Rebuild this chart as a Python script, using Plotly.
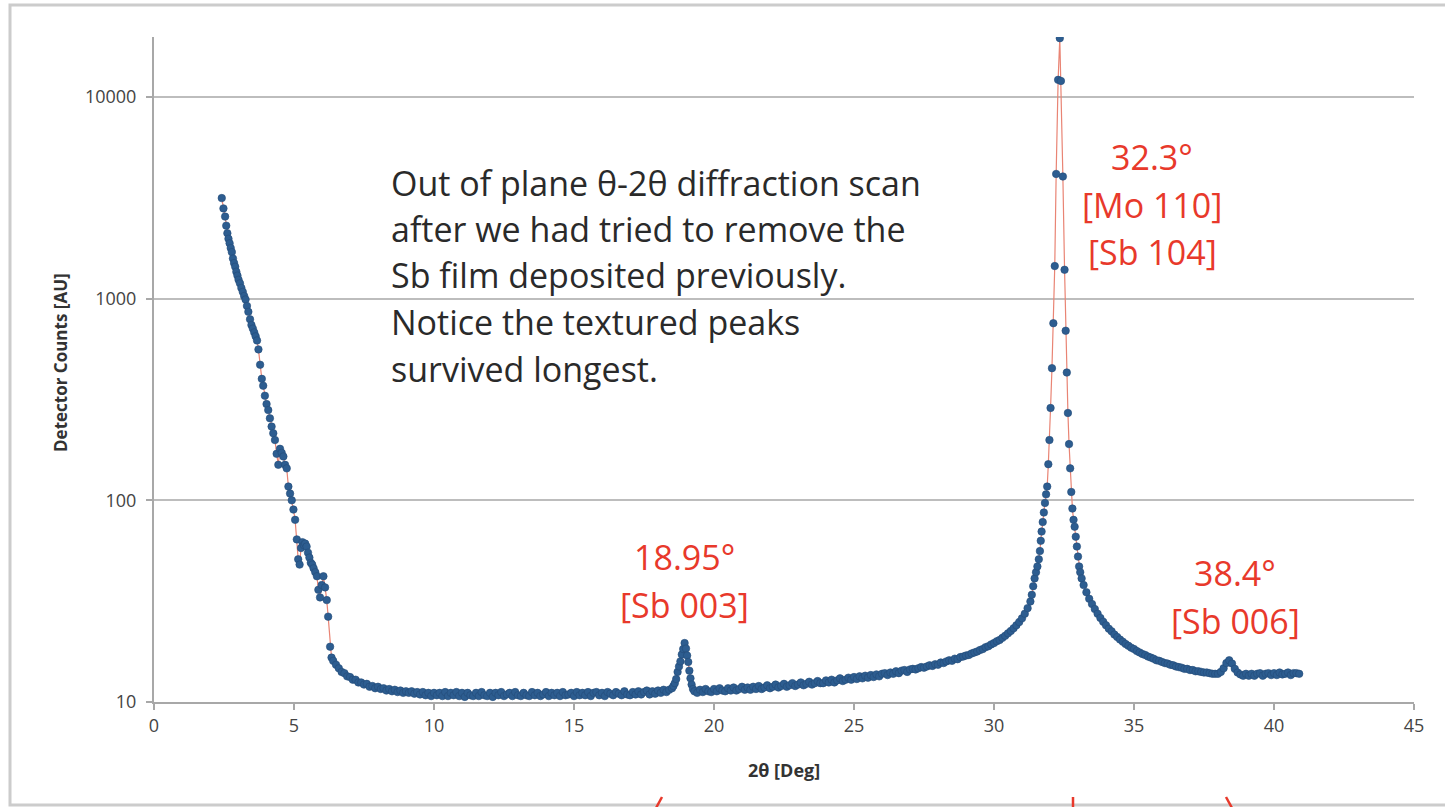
import plotly.graph_objects as go

# ---------------- data ----------------
# low-angle tail (2theta in deg, detector counts)
low_x = [2.42, 2.48, 2.54, 2.58, 2.62, 2.66, 2.70, 2.74, 2.78, 2.82,
         2.86, 2.90, 2.94, 2.98, 3.02, 3.07, 3.12, 3.17, 3.22, 3.27,
         3.32, 3.37, 3.43, 3.48, 3.53, 3.58, 3.63, 3.68, 3.73, 3.79,
         3.85, 3.90, 3.96, 4.02, 4.08, 4.14, 4.20, 4.26, 4.32, 4.38,
         4.44, 4.50, 4.56, 4.62, 4.68, 4.74, 4.80, 4.86, 4.92, 4.98,
         5.04, 5.10, 5.15, 5.20, 5.25, 5.30, 5.35, 5.40, 5.45, 5.50,
         5.55, 5.60, 5.65, 5.70, 5.76, 5.82, 5.87, 5.93, 5.99, 6.05,
         6.11, 6.17, 6.22, 6.29, 6.34]
low_y = [3150, 2800, 2550, 2300, 2110, 1980, 1880, 1780, 1700, 1580,
         1500, 1440, 1360, 1300, 1240, 1190, 1130, 1080, 1030, 990,
         920, 860, 790, 740, 710, 680, 650, 620, 560, 470,
         400, 370, 330, 300, 280, 255, 232, 215, 199, 170,
         150, 180, 172, 165, 150, 144, 117, 108, 100, 90,
         80, 64, 51, 48, 58, 62, 60, 61, 59, 55,
         52, 49, 48, 46, 44, 42, 36, 33, 38, 42,
         37, 32, 26.5, 18.8, 16.6]

# flat background 6.4 - 18.4 deg
bg1_x = [6.4, 6.5, 6.6, 6.7, 6.8, 6.9, 7.0, 7.1, 7.2, 7.3,
         7.4, 7.5, 7.6, 7.7, 7.8, 7.9, 8.0, 8.1, 8.2, 8.3,
         8.4, 8.5, 8.6, 8.7, 8.8, 8.9, 9.0, 9.1, 9.2, 9.3,
         9.4, 9.5, 9.6, 9.7, 9.8, 9.9, 10.0, 10.1, 10.2, 10.3,
         10.4, 10.5, 10.6, 10.7, 10.8, 10.9, 11.0, 11.1, 11.2, 11.3,
         11.4, 11.5, 11.6, 11.7, 11.8, 11.9, 12.0, 12.1, 12.2, 12.3,
         12.4, 12.5, 12.6, 12.7, 12.8, 12.9, 13.0, 13.1, 13.2, 13.3,
         13.4, 13.5, 13.6, 13.7, 13.8, 13.9, 14.0, 14.1, 14.2, 14.3,
         14.4, 14.5, 14.6, 14.7, 14.8, 14.9, 15.0, 15.1, 15.2, 15.3,
         15.4, 15.5, 15.6, 15.7, 15.8, 15.9, 16.0, 16.1, 16.2, 16.3,
         16.4, 16.5, 16.6, 16.7, 16.8, 16.9, 17.0, 17.1, 17.2, 17.3,
         17.4, 17.5, 17.6, 17.7, 17.8, 17.9, 18.0, 18.1, 18.2, 18.3,
         18.4]
bg1_y = [16.0, 15.3, 14.7, 14.1, 13.9, 13.4, 13.3, 12.9, 12.9, 12.5,
         12.5, 12.2, 12.3, 11.9, 12.0, 11.7, 11.9, 11.6, 11.7, 11.4,
         11.6, 11.3, 11.5, 11.2, 11.4, 11.1, 11.3, 11.1, 11.3, 11.0,
         11.2, 10.9, 11.2, 10.8, 11.1, 10.7, 11.1, 10.8, 11.1, 10.7,
         11.2, 10.7, 11.1, 10.8, 11.2, 10.7, 11.1, 10.6, 11.1, 10.8,
         10.7, 11.1, 10.7, 11.2, 10.8, 10.7, 11.1, 10.6, 11.1, 10.8,
         11.2, 10.7, 10.9, 11.1, 10.7, 11.2, 10.8, 10.7, 11.1, 10.8,
         10.7, 11.2, 10.8, 11.1, 10.7, 10.9, 11.2, 10.7, 11.1, 10.8,
         11.1, 10.7, 11.2, 10.8, 10.9, 11.1, 10.7, 11.2, 10.8, 11.1,
         10.8, 11.2, 10.7, 11.1, 11.2, 10.8, 11.1, 10.7, 11.2, 11.0,
         10.8, 11.2, 11.0, 10.8, 11.3, 10.9, 10.8, 11.2, 10.9, 11.3,
         10.9, 11.2, 11.4, 10.9, 11.3, 11.0, 11.4, 11.1, 11.5, 11.2,
         11.5]

# Sb 003 peak
p1_x = [18.5, 18.55, 18.6, 18.65, 18.7, 18.75, 18.8, 18.85, 18.9, 18.95,
        19.0, 19.04, 19.08, 19.12, 19.16, 19.2, 19.25, 19.3]
p1_y = [11.7, 12.0, 12.4, 13.0, 14.1, 15.0, 15.9, 17.2, 18.3, 19.6,
        18.4, 17.0, 15.8, 14.3, 13.1, 12.2, 11.6, 11.3]

# rising background 19.4 - 31.2 deg
bg2_x = [19.4, 19.5, 19.6, 19.7, 19.8, 19.9, 20.0, 20.1, 20.2, 20.3,
         20.4, 20.5, 20.6, 20.7, 20.8, 20.9, 21.0, 21.1, 21.2, 21.3,
         21.4, 21.5, 21.6, 21.7, 21.8, 21.9, 22.0, 22.1, 22.2, 22.3,
         22.4, 22.5, 22.6, 22.7, 22.8, 22.9, 23.0, 23.1, 23.2, 23.3,
         23.4, 23.5, 23.6, 23.7, 23.8, 23.9, 24.0, 24.1, 24.2, 24.3,
         24.4, 24.5, 24.6, 24.7, 24.8, 24.9, 25.0, 25.1, 25.2, 25.3,
         25.4, 25.5, 25.6, 25.7, 25.8, 25.9, 26.0, 26.1, 26.2, 26.3,
         26.4, 26.5, 26.6, 26.7, 26.8, 26.9, 27.0, 27.1, 27.2, 27.3,
         27.4, 27.5, 27.6, 27.7, 27.8, 27.9, 28.0, 28.1, 28.2, 28.3,
         28.4, 28.5, 28.6, 28.7, 28.8, 28.9, 29.0, 29.1, 29.2, 29.3,
         29.4, 29.5, 29.6, 29.7, 29.8, 29.9, 30.0, 30.1, 30.2, 30.3,
         30.4, 30.5, 30.6, 30.7, 30.8, 30.9, 31.0, 31.1, 31.2]
bg2_y = [11.1, 11.5, 11.2, 11.6, 11.3, 11.2, 11.6, 11.3, 11.7, 11.4,
         11.3, 11.7, 11.4, 11.8, 11.4, 11.6, 11.9, 11.5, 11.8, 11.5,
         11.9, 11.6, 12.0, 11.6, 11.8, 12.1, 11.7, 11.9, 12.2, 11.8,
         12.0, 12.3, 11.9, 12.1, 12.4, 12.0, 12.2, 12.5, 12.1, 12.3,
         12.6, 12.2, 12.4, 12.7, 12.4, 12.4, 12.8, 12.5, 12.9, 12.5,
         12.8, 13.1, 12.7, 12.9, 13.2, 12.9, 13.3, 13.0, 13.4, 13.1,
         13.5, 13.2, 13.6, 13.3, 13.7, 13.4, 13.8, 13.9, 13.6, 14.0,
         13.8, 14.2, 13.9, 14.3, 14.4, 14.1, 14.5, 14.6, 14.5, 14.7,
         14.9, 14.8, 15.0, 15.2, 15.1, 15.4, 15.3, 15.7, 15.6, 15.9,
         16.1, 16.0, 16.4, 16.3, 16.7, 16.8, 17.0, 17.1, 17.4, 17.6,
         17.8, 18.1, 18.3, 18.7, 18.9, 19.3, 19.6, 20.0, 20.3, 20.8,
         21.3, 21.9, 22.5, 23.2, 24.0, 24.9, 26.0, 27.4, 29.2]

# Mo 110 / Sb 104 peak
p2_x = [31.30, 31.35, 31.40, 31.45, 31.50, 31.55, 31.60, 31.64, 31.67, 31.70,
        31.74, 31.78, 31.82, 31.86, 31.90, 31.94, 31.98, 32.02, 32.07, 32.12,
        32.17, 32.22, 32.29, 32.35, 32.39, 32.46, 32.52, 32.56, 32.60, 32.64,
        32.68, 32.72, 32.76, 32.80, 32.84, 32.88, 32.92, 32.96, 33.00, 33.04,
        33.08, 33.13, 33.20, 33.30]
p2_y = [31.5, 34, 37.5, 41, 44, 47, 51, 56, 63, 70,
        78, 87, 97, 107, 117, 151, 199, 287, 452, 755,
        1450, 4150, 12150, 19550, 12000, 4030, 1390, 693, 430, 271,
        190, 144, 110, 91, 80, 74, 66, 59, 52.6, 47,
        44, 41, 38, 35]

# tail after the main peak incl. Sb 006
bg3_x = [33.4, 33.5, 33.6, 33.7, 33.8, 33.9, 34.0, 34.1, 34.2, 34.3,
         34.4, 34.5, 34.6, 34.7, 34.8, 34.9, 35.0, 35.1, 35.2, 35.3,
         35.4, 35.5, 35.6, 35.7, 35.8, 35.9, 36.0, 36.1, 36.2, 36.3,
         36.4, 36.5, 36.6, 36.7, 36.8, 36.9, 37.0, 37.1, 37.2, 37.3,
         37.4, 37.5, 37.6, 37.7, 37.8, 37.9, 38.0, 38.1, 38.2, 38.3,
         38.4, 38.5, 38.6, 38.7, 38.8, 38.9, 39.0, 39.1, 39.2, 39.3,
         39.4, 39.5, 39.6, 39.7, 39.8, 39.9, 40.0, 40.1, 40.2, 40.3,
         40.4, 40.5, 40.6, 40.7, 40.8, 40.9]
bg3_y = [32.5, 30.6, 28.9, 27.4, 26.1, 25.0, 24.0, 23.1, 22.4, 21.6,
         21.0, 20.4, 19.9, 19.4, 19.0, 18.6, 18.3, 17.9, 17.6, 17.3,
         17.1, 16.8, 16.6, 16.4, 16.1, 16.0, 15.8, 15.6, 15.5, 15.3,
         15.2, 15.0, 14.9, 14.8, 14.6, 14.6, 14.4, 14.4, 14.2, 14.2,
         14.1, 14.0, 14.0, 13.9, 13.8, 13.8, 13.8, 14.1, 14.7, 15.6,
         16.1, 15.5, 14.6, 14.0, 13.7, 13.5, 13.8, 13.5, 13.8, 13.5,
         13.8, 13.9, 13.5, 13.8, 13.9, 13.6, 13.9, 13.6, 14.0, 13.7,
         13.8, 14.0, 13.6, 13.9, 13.9, 13.8]

two_theta = low_x + bg1_x + p1_x + bg2_x + p2_x + bg3_x
counts = low_y + bg1_y + p1_y + bg2_y + p2_y + bg3_y
assert len(two_theta) == len(counts)

y_ticks = [10, 100, 1000, 10000]
y_tick_text = ["10", "100", "1000", "10000"]
x_ticks = [0, 5, 10, 15, 20, 25, 30, 35, 40, 45]

note_lines = ["Out of plane θ-2θ diffraction scan",
              "after we had tried to remove the",
              "Sb film deposited previously.",
              "Notice the textured peaks",
              "survived longest."]
peak_labels = [("18.95°", "[Sb 003]", None), ("32.3°", "[Mo 110]", "[Sb 104]"),
               ("38.4°", "[Sb 006]", None)]

# ---------------- layout geometry ----------------
W, H = 1445, 807
L, R, T, B = 154, 1414, 37, 702


def px(x):
    return (x - L) / (R - L)


def py(y):
    return (B - y) / (B - T)


FONT = "Open Sans"
RED = "#e8392b"

fig = go.Figure()
fig.add_trace(go.Scatter(
    x=two_theta, y=counts, mode="lines+markers",
    line=dict(color="#e98474", width=1.2),
    marker=dict(color="#2d5d90", size=7.5, line=dict(color="#234b78", width=0.6)),
    hoverinfo="x+y", showlegend=False))

annotations = []
# note text
note_y = [183, 229, 275, 322, 369]
for line, yy in zip(note_lines, note_y):
    annotations.append(dict(x=px(389), y=py(yy), xref="paper", yref="paper",
                            text=line, showarrow=False, xanchor="left", yanchor="middle",
                            font=dict(family=FONT, size=34, color="#2a2a2a")))

# red peak labels
label_pos = [(684, [557, 605]), (1152, [157, 205, 252]), (1235, [573, 621])]
for (a, b_, c), (cx, ys) in zip(peak_labels, label_pos):
    texts = [t for t in (a, b_, c) if t]
    for t, yy in zip(texts, ys):
        annotations.append(dict(x=px(cx), y=py(yy), xref="paper", yref="paper",
                                text=t, showarrow=False, xanchor="center", yanchor="middle",
                                font=dict(family=FONT, size=34, color=RED)))

# axis titles
annotations.append(dict(x=px(60), y=py(363), xref="paper", yref="paper",
                        text="<b>Detector Counts [AU]</b>", showarrow=False, textangle=-90,
                        xanchor="center", yanchor="middle",
                        font=dict(family=FONT, size=17, color="#333333")))
annotations.append(dict(x=px(784), y=py(770), xref="paper", yref="paper",
                        text="<b>2θ [Deg]</b>", showarrow=False,
                        xanchor="center", yanchor="middle",
                        font=dict(family=FONT, size=18, color="#333333")))

shapes = [
    # outer chart border
    dict(type="rect", xref="paper", yref="paper",
         x0=px(10), x1=px(1452), y0=py(805), y1=py(5),
         line=dict(color="#cccccc", width=3), layer="below"),
    # red arrow fragments at bottom edge
    dict(type="line", xref="paper", yref="paper", x0=px(662), y0=py(797), x1=px(656), y1=py(808),
         line=dict(color=RED, width=2.5)),
    dict(type="line", xref="paper", yref="paper", x0=px(1073), y0=py(797), x1=px(1073), y1=py(808),
         line=dict(color=RED, width=2.5)),
    dict(type="line", xref="paper", yref="paper", x0=px(1226), y0=py(797), x1=px(1232), y1=py(808),
         line=dict(color=RED, width=2.5)),
]

fig.update_layout(
    width=W, height=H,
    margin=dict(l=L, r=W - R, t=T, b=H - B),
    paper_bgcolor="white", plot_bgcolor="white",
    font=dict(family=FONT, color="#444444"),
    annotations=annotations, shapes=shapes,
    showlegend=False,
)
fig.update_xaxes(range=[0, 45], tickvals=x_ticks, showgrid=False, zeroline=False,
                 showline=True, linecolor="#a8a8a8", linewidth=2,
                 ticks="outside", ticklen=6, tickcolor="#a8a8a8", tickwidth=2,
                 tickfont=dict(family=FONT, size=18, color="#444444"))
fig.update_yaxes(type="log", range=[1, 4.297], tickvals=y_ticks, ticktext=y_tick_text,
                 showgrid=True, gridcolor="#bdbdbd", gridwidth=2, zeroline=False,
                 showline=True, linecolor="#a8a8a8", linewidth=2,
                 ticks="outside", ticklen=6, tickcolor="#a8a8a8", tickwidth=2,
                 ticklabelstandoff=6,
                 tickfont=dict(family=FONT, size=18, color="#444444"))

fig.write_html("out.html", config={"displayModeBar": False},
               post_script="document.body.style.margin='0px';")
